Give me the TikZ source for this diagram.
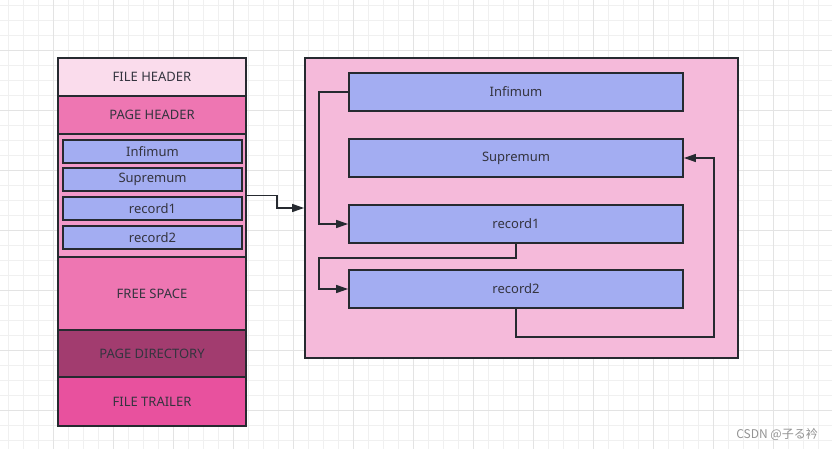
\documentclass[tikz,border=0pt]{standalone}
\usepackage{fontspec}
\setmainfont{Noto Sans}
\newfontfamily\cjkfont{Noto Sans CJK SC}
\usetikzlibrary{arrows.meta}
\definecolor{fhcol}{HTML}{FADCEC}
\definecolor{phcol}{HTML}{EE76B2}
\definecolor{racol}{HTML}{F39AC9}
\definecolor{reccol}{HTML}{A3ADF2}
\definecolor{pdcol}{HTML}{A23C6F}
\definecolor{ftcol}{HTML}{E8519E}
\definecolor{pgcol}{HTML}{F5BADA}
\definecolor{edgecol}{HTML}{262A30}
\definecolor{txtcol}{HTML}{34343F}
\tikzset{
  seg/.style={draw=edgecol, line width=1.8pt, minimum width=188, text=txtcol, font=\fontsize{13}{15}\selectfont, inner sep=0pt},
  smallrec/.style={draw=edgecol, line width=1.8pt, fill=reccol, minimum width=179, minimum height=23, text=txtcol, font=\fontsize{13}{15}\selectfont, inner sep=0pt},
  bigrec/.style={draw=edgecol, line width=1.8pt, fill=reccol, minimum width=334, minimum height=38, text=txtcol, font=\fontsize{13}{15}\selectfont, inner sep=0pt},
  link/.style={draw=edgecol, line width=1.4pt, -{Triangle[length=12pt,width=8pt]}},
  gridminor/.style={draw=black!6, line width=0.8pt},
  gridmajor/.style={draw=black!11, line width=0.8pt}
}
\begin{document}
\begin{tikzpicture}[x=1pt, y=-1pt]
			%%%%% START %%%%%
			\useasboundingbox[fill=white] (0,0) rectangle (832,449);
			
			\foreach \gx in {8,23,...,830} \draw[gridminor] (\gx,0) -- (\gx,449);
			\foreach \gy in {5,20,...,449} \draw[gridminor] (0,\gy) -- (832,\gy);
			\foreach \gx in {53,113,...,830} \draw[gridmajor] (\gx,0) -- (\gx,449);
			\foreach \gy in {50,110,...,449} \draw[gridmajor] (0,\gy) -- (832,\gy);
			
			% page layout
			\node[seg, fill=fhcol, minimum height=38] (fileheader) at (152,77) {FILE HEADER};
			\node[seg, fill=phcol, minimum height=38] (pageheader) at (152,115) {PAGE HEADER};
			\node[seg, fill=racol, minimum height=123] (recarea) at (152,195.5) {};
			\node[seg, fill=phcol, minimum height=73] (freespace) at (152,293.5) {FREE SPACE};
			\node[seg, fill=pdcol, minimum height=47] (pagedir) at (152,353.5) {PAGE DIRECTORY};
			\node[seg, fill=ftcol, minimum height=49] (filetrailer) at (152,401.5) {FILE TRAILER};
			
			\node[smallrec] (infa) at (152.5,151.5) {Infimum};
			\node[smallrec] (supa) at (152.5,179.5) {Supremum};
			\node[smallrec] (reca) at (152.5,208.5) {record1};
			\node[smallrec] (recb) at (152.5,237.5) {record2};
			
			% user records
			\node[draw=edgecol, line width=1.8pt, fill=pgcol, minimum width=433, minimum height=300] (pagebox) at (521.5,208) {};
			\node[bigrec] (infimum) at (516,92) {Infimum};
			\node[bigrec] (supremum) at (516,158) {Supremum};
			\node[bigrec] (recordone) at (516,224) {record1};
			\node[bigrec] (recordtwo) at (516,289) {record2};
			
			\draw[link] (recarea.east) -- ++(30,0) |- (pagebox.west);
			\draw[link] (infimum.west) -- ++(-29,0) |- (recordone.west);
			\draw[link] (recordone.south) -- ++(0,14) -| ([xshift=-29pt]recordtwo.west) -- (recordtwo.west);
			\draw[link] (recordtwo.south) -- ++(0,28) -| ([xshift=30pt]supremum.east) -- (supremum.east);
			
			\node[text=black!42, font=\cjkfont\fontsize{12}{14}\selectfont, anchor=east, inner sep=0pt] (mark) at (818,434) {CSDN @子る衿};
			%%%%% END %%%%%
\end{tikzpicture}
\end{document}
